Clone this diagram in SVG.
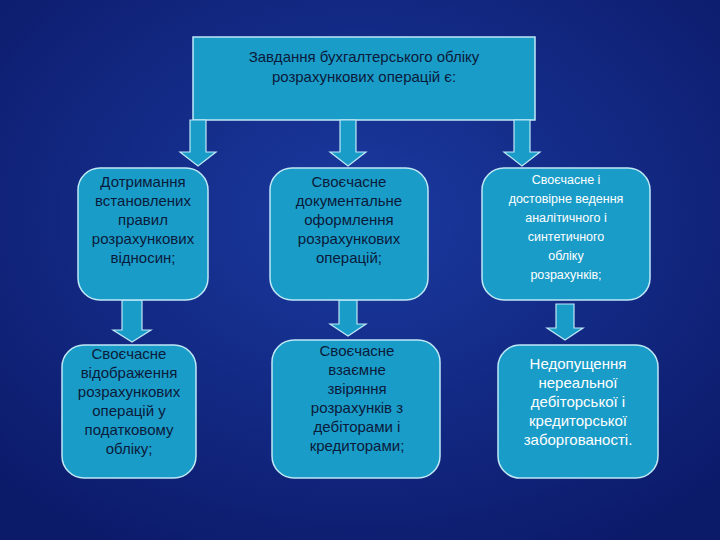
<svg xmlns="http://www.w3.org/2000/svg" width="720" height="540" viewBox="0 0 720 540">
<defs>
<radialGradient id="bg" cx="50%" cy="40%" r="70%">
<stop offset="0" stop-color="#1a3aa0"/><stop offset="1" stop-color="#0c1a6a"/>
</radialGradient>
<style>
.n{fill:#1a9cc8;stroke:#bfe8f6;stroke-width:1.5}
.a{fill:#1a9cc8;stroke:#bfe8f6;stroke-width:1.2}
text{font-family:"Liberation Sans",Arial,sans-serif;fill:#0a1a3a;text-anchor:middle}
.t15{font-size:15px}.t13{font-size:12.5px}.w{fill:#ffffff}
</style>
</defs>
<rect width="720" height="540" fill="url(#bg)"/>
<g id="top"><rect class="n" x="193" y="37" width="342" height="83"/>
<text class="t15" x="364" y="62">Завдання бухгалтерського обліку</text>
<text class="t15" x="364" y="82">розрахункових операцій є:</text></g>
<g id="connectors">
<path class="a" d="M190,120 h16 v32 h10 l-18,14 l-18,-14 h10 z"/>
<path class="a" d="M340,120 h16 v32 h10 l-18,14 l-18,-14 h10 z"/>
<path class="a" d="M514,120 h16 v32 h10 l-18,14 l-18,-14 h10 z"/>
<path class="a" d="M122,300 h20 v30 h9 l-19,12 l-19,-12 h9 z"/>
<path class="a" d="M339,300 h18 v24 h9 l-18,12 l-18,-12 h9 z"/>
<path class="a" d="M556,304 h18 v24 h9 l-18,12 l-18,-12 h9 z"/>
</g>
<g id="n1"><rect class="n" x="78" y="168" width="130" height="132" rx="22"/>
<text class="t15" x="143" y="187">Дотримання</text><text class="t15" x="143" y="206">встановлених</text><text class="t15" x="143" y="225">правил</text><text class="t15" x="143" y="244">розрахункових</text><text class="t15" x="143" y="263">відносин;</text></g>
<g id="n2"><rect class="n" x="270" y="168" width="158" height="132" rx="22"/>
<text class="t15" x="349" y="187">Своєчасне</text><text class="t15" x="349" y="206">документальне</text><text class="t15" x="349" y="225">оформлення</text><text class="t15" x="349" y="244">розрахункових</text><text class="t15" x="349" y="263">операцій;</text></g>
<g id="n3"><rect class="n" x="482" y="168" width="168" height="132" rx="22"/>
<text class="t13 w" x="566" y="184">Своєчасне і</text><text class="t13 w" x="566" y="203">достовірне ведення</text><text class="t13 w" x="566" y="222">аналітичного і</text><text class="t13 w" x="566" y="241">синтетичного</text><text class="t13 w" x="566" y="260">обліку</text><text class="t13 w" x="566" y="279">розрахунків;</text></g>
<g id="n4"><rect class="n" x="62" y="345" width="134" height="133" rx="22"/>
<text class="t15" x="129" y="359">Своєчасне</text><text class="t15" x="129" y="378">відображення</text><text class="t15" x="129" y="397">розрахункових</text><text class="t15" x="129" y="416">операцій у</text><text class="t15" x="129" y="435">податковому</text><text class="t15" x="129" y="454">обліку;</text></g>
<g id="n5"><rect class="n" x="272" y="340" width="168" height="138" rx="22"/>
<text class="t15" x="357" y="356">Своєчасне</text><text class="t15" x="357" y="375">взаємне</text><text class="t15" x="357" y="394">звіряння</text><text class="t15" x="357" y="413">розрахунків з</text><text class="t15" x="357" y="432">дебіторами і</text><text class="t15" x="357" y="451">кредиторами;</text></g>
<g id="n6"><rect class="n" x="498" y="345" width="160" height="133" rx="22"/>
<text class="t15 w" x="578" y="369">Недопущення</text><text class="t15 w" x="578" y="388">нереальної</text><text class="t15 w" x="578" y="407">дебіторської і</text><text class="t15 w" x="578" y="426">кредиторської</text><text class="t15 w" x="578" y="445">заборгованості.</text></g>
</svg>
